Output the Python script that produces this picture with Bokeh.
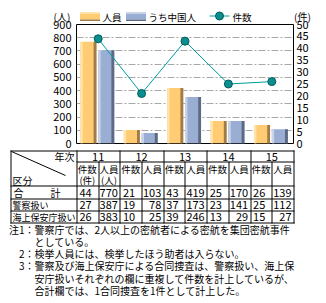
from bokeh.plotting import figure
from bokeh.models import Range1d, LinearAxis, FixedTicker, ColumnDataSource
from bokeh.layouts import column
from bokeh.transform import dodge
from bokeh.embed import file_html
from bokeh.resources import INLINE
from bokeh.core.properties import value

# ---------------- data ----------------
years = ["11", "12", "13", "14", "15"]
persons = [770, 103, 419, 170, 139]          # 人員
chinese = [705, 80, 352, 170, 108]           # うち中国人
cases = [44, 21, 43, 25, 26]                 # 件数
police_cases = [27, 19, 37, 23, 25]
police_persons = [387, 78, 173, 141, 112]
coast_cases = [26, 10, 39, 13, 15]
coast_persons = [383, 25, 246, 29, 27]
series_names = ["人員", "うち中国人", "件数"]
row_labels = ["合計", "警察扱い", "海上保安庁扱い"]
left_ticks = list(range(0, 901, 100))
right_ticks = list(range(0, 51, 5))
notes = [
    ("注1：", "警察庁では、2人以上の密航者による密航を集団密航事件"),
    ("", "としている。"),
    ("2：", "検挙人員には、検挙したほう助者は入らない。"),
    ("3：", "警察及び海上保安庁による合同捜査は、警察扱い、海上保"),
    ("", "安庁扱いそれぞれの欄に重複して件数を計上しているが、"),
    ("", "合計欄では、1合同捜査を1件として計上した。"),
]

# ---------------- layout constants ----------------
JP = "Noto Sans CJK JP"
W = 326
FRAME_L, FRAME_R = 76, 293
FRAME_T, FRAME_B = 24, 143
TOP_H = 28          # legend strip height
OVERLAP = 12        # chart canvas starts at TOP_H - OVERLAP
CHART_TOP = TOP_H - OVERLAP
CHART_BOTTOM = 149
H_T = 303 - CHART_BOTTOM

ORANGE = ("#FFE3AA", "#FFCC73", "#A07C48")
BLUE = ("#CAD4E7", "#9AAED4", "#5E6A84")
TEAL = "#009C9C"

n = len(years)
cw = (FRAME_R - FRAME_L) / n

# ---------------- legend strip ----------------
top = figure(width=W, height=TOP_H, x_range=Range1d(0, W), y_range=Range1d(TOP_H, 0),
             output_backend="svg", toolbar_location=None, min_border=0,
             x_axis_location=None, y_axis_location=None)
top.frame_align = False
top.outline_line_color = None
top.xgrid.visible = False
top.ygrid.visible = False


def swatch(x0, cols):
    top.quad(left=[x0] * 3, right=[x0 + 20] * 3, top=[11.5, 13.5, 19], bottom=[13.5, 19, 20.5],
             fill_color=list(cols), line_color=None)


swatch(79.5, ORANGE)
swatch(125.5, BLUE)
top.line(x=[209, 229], y=[15.5, 15.5], line_color=TEAL, line_width=1)
top.scatter(x=[219], y=[15.5], size=8, fill_color="#0B8E8E", line_color="#045C5C")
top.text(x=[102, 148, 232], y=[16, 16, 16], text=series_names,
         text_font=value(JP), text_font_size="9.5px", text_baseline="middle", text_align="left",
         text_color="black")
top.text(x=[61.5, 302], y=[15.5, 15.5], text=["(人)", "(件)"],
         text_font=value(JP), text_font_size="10px", text_baseline="middle", text_align="center",
         text_color="black")

# ---------------- chart ----------------
chart = figure(width=W, height=CHART_BOTTOM - CHART_TOP, x_range=Range1d(0, n),
               y_range=Range1d(0, left_ticks[-1]),
               output_backend="svg", toolbar_location=None,
               min_border_left=FRAME_L, min_border_right=W - FRAME_R,
               min_border_top=FRAME_T - CHART_TOP, min_border_bottom=CHART_BOTTOM - FRAME_B,
               x_axis_location=None)
chart.margin = (-OVERLAP, 0, 0, 0)
chart.frame_align = False
chart.background_fill_color = "white"
chart.border_fill_alpha = 0
chart.outline_line_color = "black"
chart.outline_line_alpha = 1
chart.outline_line_width = 1
chart.extra_y_ranges = {"cases": Range1d(0, right_ticks[-1])}

chart.xgrid.visible = False
chart.ygrid.ticker = FixedTicker(ticks=left_ticks[1:-1])
chart.ygrid.grid_line_color = "#A8A8A8"
chart.ygrid.grid_line_dash = "7 2 2 2"
chart.ygrid.grid_line_width = 1

ax = chart.yaxis[0]
ax.ticker = FixedTicker(ticks=left_ticks)
rax = LinearAxis(y_range_name="cases", ticker=FixedTicker(ticks=right_ticks))
chart.add_layout(rax, "right")
for a, so in ((ax, 5), (rax, 3)):
    a.axis_line_color = None
    a.major_tick_in = 0
    a.major_tick_out = 0
    a.minor_tick_in = 0
    a.minor_tick_out = 0
    a.major_label_standoff = so
    a.major_label_text_font = JP
    a.major_label_text_font_size = "11px"
    a.major_label_text_color = "black"

BW = 0.37
STRIP = 0.055


def bar3d(vals, left_off, cols):
    light, main, dark = cols
    src = ColumnDataSource(dict(x=[i + left_off + BW / 2 for i in range(n)], top=vals))
    chart.vbar(x="x", top="top", bottom=0, width=BW, source=src, fill_color=main, line_color=None)
    chart.vbar(x=dodge("x", -BW / 2 + STRIP / 2), top="top", bottom=0, width=STRIP, source=src,
               fill_color=light, line_color=None)
    chart.vbar(x=dodge("x", BW / 2 - STRIP * 1.2 / 2), top="top", bottom=0, width=STRIP * 1.2, source=src,
               fill_color=dark, line_color=None)


bar3d(persons, 0.09, ORANGE)
bar3d(chinese, 0.50, BLUE)

xs = [i + 0.5 for i in range(n)]
chart.line(x=xs, y=cases, y_range_name="cases", line_color=TEAL, line_width=1)
chart.scatter(x=xs, y=cases, y_range_name="cases", size=8, fill_color="#0B8E8E", line_color="#045C5C")

# ---------------- table + notes ----------------
tbl = figure(width=W, height=H_T, x_range=Range1d(0, W), y_range=Range1d(H_T, 0),
             output_backend="svg", toolbar_location=None, min_border=0,
             x_axis_location=None, y_axis_location=None)
tbl.frame_align = False
tbl.outline_line_color = None
tbl.xgrid.visible = False
tbl.ygrid.visible = False


def Y(py):
    return py - CHART_BOTTOM


bounds = [FRAME_L + i * cw for i in range(n + 1)]
subs = [FRAME_L + (i + 0.5) * cw for i in range(n)]
T_LEFT = 10
rows_y = [150, 161, 185, 198, 210, 222]


def px(v):
    return round(v) + 0.5


x0s, y0s, x1s, y1s = [], [], [], []
for k, yy in enumerate(rows_y):
    xl = FRAME_L if k == 1 else T_LEFT
    x0s.append(xl); x1s.append(FRAME_R + 1); y0s.append(Y(px(yy))); y1s.append(Y(px(yy)))
for xx in [T_LEFT] + bounds:
    x0s.append(px(xx)); x1s.append(px(xx)); y0s.append(Y(rows_y[0])); y1s.append(Y(rows_y[-1] + 1))
for xx in subs:
    x0s.append(px(xx)); x1s.append(px(xx)); y0s.append(Y(rows_y[1])); y1s.append(Y(rows_y[-1] + 1))
tbl.segment(x0=x0s, y0=y0s, x1=x1s, y1=y1s, line_color="black", line_width=1)
tbl.segment(x0=[T_LEFT + 1], y0=[Y(151)], x1=[65], y1=[Y(175)], line_color="black", line_width=1)

TXT = dict(text_font=value(JP), text_color="black", text_baseline="middle")

# header
tbl.text(x=[74], y=[Y(156)], text=["年次"], text_align="right", text_font_size="10px", **TXT)
tbl.text(x=[(bounds[i] + bounds[i + 1]) / 2 for i in range(n)], y=[Y(156)] * n, text=years,
         text_align="center", text_font_size="11px", **TXT)
hx, hy, ht = [], [], []
for i in range(n):
    hx += [(bounds[i] + subs[i]) / 2, (subs[i] + bounds[i + 1]) / 2]
    hy += [Y(168), Y(168)]
    ht += ["件数", "人員"]
hx += [(bounds[0] + subs[0]) / 2, (subs[0] + bounds[1]) / 2]
hy += [Y(179), Y(179)]
ht += ["(件)", "(人)"]
tbl.text(x=hx, y=hy, text=ht, text_align="center", text_font_size="9.5px", **TXT)
tbl.text(x=[12], y=[Y(180)], text=["区分"], text_align="left", text_font_size="10px", **TXT)

# row labels
row_cy = [Y(192), Y(204.5), Y(216.5)]
tbl.text(x=[13, 50], y=[row_cy[0]] * 2, text=[row_labels[0][0], row_labels[0][1]],
         text_align="left", text_font_size="10px", **TXT)
tbl.text(x=[12, 12], y=row_cy[1:], text=row_labels[1:], text_align="left", text_font_size="9px", **TXT)

# values
lx, ly, lt, rx, ry, rt = [], [], [], [], [], []
for r, (cs, ps) in enumerate([(cases, persons), (police_cases, police_persons), (coast_cases, coast_persons)]):
    for i in range(n):
        lx.append(bounds[i] + 3); ly.append(row_cy[r]); lt.append(str(cs[i]))
        rx.append(bounds[i + 1] - 2); ry.append(row_cy[r]); rt.append(str(ps[i]))
tbl.text(x=lx, y=ly, text=lt, text_align="left", text_font_size="11px", **TXT)
tbl.text(x=rx, y=ry, text=rt, text_align="right", text_font_size="11px", **TXT)

# notes
note_y = [229, 241, 253, 265, 277.5, 290]
tags = [(34, Y(note_y[k]), t) for k, (t, _) in enumerate(notes) if t]
tbl.text(x=[a for a, _, _ in tags], y=[b for _, b, _ in tags], text=[c for _, _, c in tags],
         text_align="right", text_font_size="10px", **TXT)
tbl.text(x=[34] * len(notes), y=[Y(v) for v in note_y], text=[b for _, b in notes],
         text_align="left", text_font_size="10px", **TXT)

layout = column(top, chart, tbl, spacing=0)
open("out.html", "w").write(file_html(layout, INLINE))
